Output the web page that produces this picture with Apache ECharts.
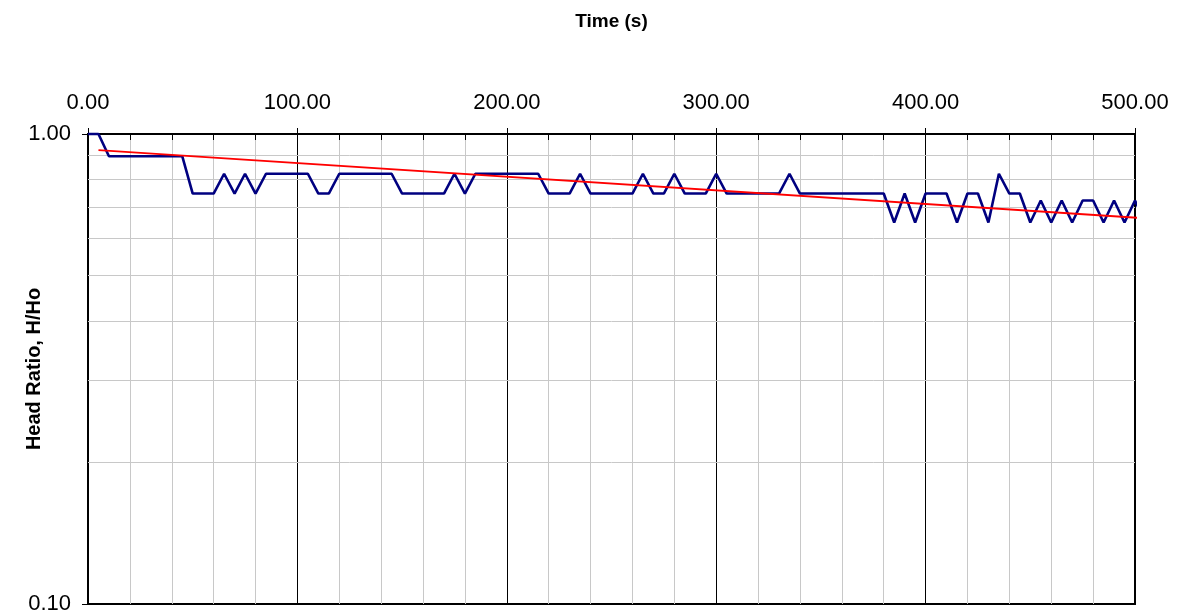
<!DOCTYPE html>
<html>
<head>
<meta charset="utf-8">
<title>Head Ratio vs Time</title>
<script src="https://cdn.jsdelivr.net/npm/echarts@6/dist/echarts.min.js"></script>
<style>
    html, body { margin: 0; padding: 0; background: #fff; }
    #myChartArea { width: 1179px; height: 613px; }
</style>
</head>
<body>
<div id="myChartArea"></div>
<script>
// 时间 (s)
var timeSec = [0, 5, 10, 15, 20, 25, 30, 35, 40, 45, 50, 55, 60, 65, 70, 75, 80, 85, 90, 95,
    100, 105, 110, 115, 120, 125, 130, 135, 140, 145, 150, 155, 160, 165, 170, 175, 180, 185, 190, 195,
    200, 205, 210, 215, 220, 225, 230, 235, 240, 245, 250, 255, 260, 265, 270, 275, 280, 285, 290, 295,
    300, 305, 310, 315, 320, 325, 330, 335, 340, 345, 350, 355, 360, 365, 370, 375, 380, 385, 390, 395,
    400, 405, 410, 415, 420, 425, 430, 435, 440, 445, 450, 455, 460, 465, 470, 475, 480, 485, 490, 495,
    500, 505];

// H/Ho
var headRatio = [1.0, 1.0, 0.897, 0.897, 0.897, 0.897, 0.897, 0.897, 0.897, 0.897, 0.747, 0.747, 0.747, 0.823, 0.747, 0.823, 0.747, 0.823, 0.823, 0.823,
    0.823, 0.823, 0.747, 0.747, 0.823, 0.823, 0.823, 0.823, 0.823, 0.823, 0.747, 0.747, 0.747, 0.747, 0.747, 0.823, 0.747, 0.823, 0.823, 0.823,
    0.823, 0.823, 0.823, 0.823, 0.747, 0.747, 0.747, 0.823, 0.747, 0.747, 0.747, 0.747, 0.747, 0.823, 0.747, 0.747, 0.823, 0.747, 0.747, 0.747,
    0.823, 0.747, 0.747, 0.747, 0.747, 0.747, 0.747, 0.823, 0.747, 0.747, 0.747, 0.747, 0.747, 0.747, 0.747, 0.747, 0.747, 0.648, 0.747, 0.648,
    0.747, 0.747, 0.747, 0.648, 0.747, 0.747, 0.648, 0.823, 0.747, 0.747, 0.648, 0.722, 0.648, 0.722, 0.648, 0.722, 0.722, 0.648, 0.722, 0.648,
    0.722, 0.648];

// 趋势线 (指数)
var trendTime = [5, 502];
var trendRatio = [0.924, 0.663];

// 刻度
var xTicks = [0, 100, 200, 300, 400, 500];
var yMinorGrid = [0.2, 0.3, 0.4, 0.5, 0.6, 0.7, 0.8, 0.9];

var font = 'Arial, "Liberation Sans", sans-serif';
var myChart = echarts.init(document.getElementById("myChartArea"));

var option = {
    animation: false,
    textStyle: { fontFamily: font, color: '#000' },
    grid: {
        left: 88, top: 134, width: 1047, height: 470,
        outerBoundsMode: 'none',
        containLabel: false,
        show: true, borderColor: '#000', borderWidth: 2, backgroundColor: 'transparent'
    },
    xAxis: [
        {
            type: 'value',
            position: 'top',
            min: xTicks[0],
            max: xTicks[xTicks.length - 1],
            interval: 100,
            name: 'Time (s)',
            nameLocation: 'middle',
            nameGap: 103,
            nameMoveOverlap: false,
            nameTextStyle: { fontFamily: font, fontWeight: 'bold', fontSize: 19, color: '#000' },
            axisLine: { show: true, lineStyle: { color: '#000', width: 2 } },
            axisTick: { show: true, length: 6, lineStyle: { color: '#000' } },
            axisLabel: {
                margin: 20, fontSize: 22, color: '#000', fontFamily: font,
                formatter: function (v) { return v.toFixed(2); }
            },
            splitLine: { show: true, lineStyle: { color: '#000', width: 1 } },
            minorTick: { show: false, splitNumber: 5 },
            minorSplitLine: { show: true, lineStyle: { color: '#c8c8c8', width: 1 } }
        },
        {
            // 内侧小刻度
            type: 'value',
            position: 'top',
            min: 0,
            max: 500,
            interval: 20,
            axisLine: { show: false },
            axisTick: { show: true, inside: true, length: 6, lineStyle: { color: '#000' } },
            axisLabel: { show: false },
            splitLine: { show: false }
        }
    ],
    yAxis: {
        type: 'log',
        logBase: 10,
        min: 0.1,
        max: 1,
        name: 'Head Ratio, H/Ho',
        nameLocation: 'middle',
        nameGap: 44,
        nameMoveOverlap: false,
        nameTextStyle: { fontFamily: font, fontWeight: 'bold', fontSize: 20, color: '#000' },
        axisLine: { show: true, lineStyle: { color: '#000', width: 2 } },
        axisTick: { show: true, length: 6, lineStyle: { color: '#000' } },
        axisLabel: {
            margin: 17, fontSize: 22, color: '#000', fontFamily: font,
            formatter: function (v) { return v.toFixed(2); }
        },
        splitLine: { show: false }
    },
    series: [
        {
            type: 'line',
            name: 'grid',
            data: [],
            silent: true,
            markLine: {
                silent: true,
                symbol: ['none', 'none'],
                label: { show: false },
                lineStyle: { color: '#c8c8c8', type: 'solid', width: 1 },
                data: yMinorGrid.map(function (v) { return { yAxis: v }; })
            }
        },
        {
            type: 'line',
            name: 'H/Ho',
            z: 10,
            clip: false,
            showSymbol: false,
            lineStyle: { color: '#000080', width: 2.6 },
            data: timeSec.map(function (t, i) { return [t, headRatio[i]]; })
        },
        {
            type: 'line',
            name: 'Trend',
            z: 11,
            clip: false,
            showSymbol: false,
            lineStyle: { color: '#ff0000', width: 1.8 },
            data: trendTime.map(function (t, i) { return [t, trendRatio[i]]; })
        }
    ]
};

myChart.setOption(option);
</script>
</body>
</html>
